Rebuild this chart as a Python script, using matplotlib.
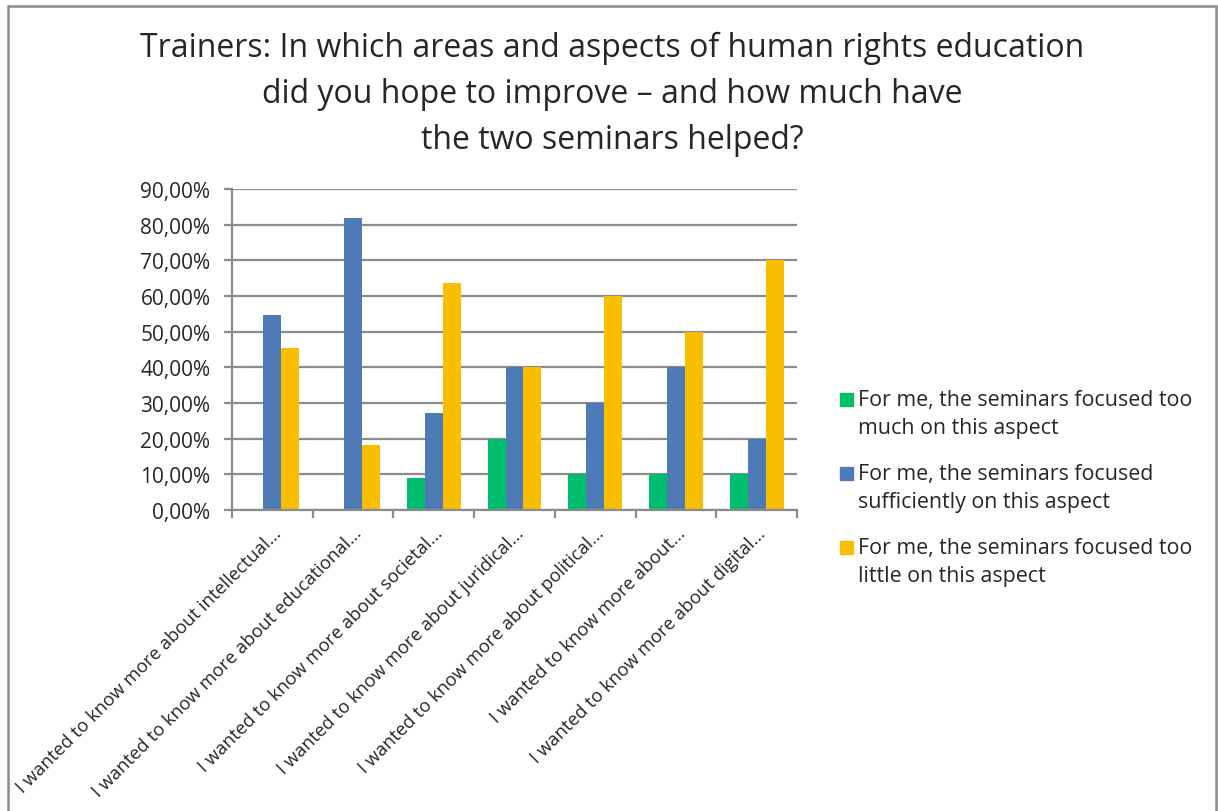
import matplotlib
matplotlib.use('Agg')
import matplotlib.pyplot as plt
from matplotlib.patches import Rectangle
import numpy as np

plt.rcParams['font.family'] = ['Open Sans', 'DejaVu Sans']

# survey answers per topic (share of trainers)
categories = [
    'I wanted to know more about intellectual...',
    'I wanted to know more about educational...',
    'I wanted to know more about societal...',
    'I wanted to know more about juridical...',
    'I wanted to know more about political...',
    'I wanted to know more about...',
    'I wanted to know more about digital...',
]
too_much = [0.0, 0.0, 0.0909, 0.20, 0.10, 0.10, 0.10]
sufficient = [0.5455, 0.8182, 0.2727, 0.40, 0.30, 0.40, 0.20]
too_little = [0.4545, 0.1818, 0.6364, 0.40, 0.60, 0.50, 0.70]

series_labels = [
    'For me, the seminars focused too\nmuch on this aspect',
    'For me, the seminars focused\nsufficiently on this aspect',
    'For me, the seminars focused too\nlittle on this aspect',
]
colors = ['#00BE6E', '#4E7AB5', '#F8BE00']
yticks = [0.0, 0.1, 0.2, 0.3, 0.4, 0.5, 0.6, 0.7, 0.8, 0.9]

TEXT = '#262626'
GRID = '#8C8C8C'

W, H = 1218, 812
fig = plt.figure(figsize=(W / 100, H / 100), dpi=100)
ax = fig.add_axes([232 / W, 1 - 511 / H, (797 - 232) / W, (511 - 190) / H])

x = np.arange(len(categories))
bw = 0.222
for i, (vals, c) in enumerate(zip([too_much, sufficient, too_little], colors)):
    ax.bar(x + (i - 1) * bw, vals, width=bw, color=c, zorder=3)

ax.set_xlim(-0.5, len(categories) - 0.5)
ax.set_ylim(0, 0.9)
ax.set_yticks(yticks)
ax.set_yticklabels([f'{v * 100:.2f}%'.replace('.', ',') for v in yticks],
                   fontsize=15, color=TEXT)
ax.yaxis.grid(True, color=GRID, linewidth=1.6, zorder=0)

# category labels, ticks sit between groups
ax.set_xticks(x)
ax.set_xticklabels(categories, rotation=45, ha='right', rotation_mode='anchor',
                   fontsize=13.2, color=TEXT)
ax.tick_params(axis='x', which='major', length=0, pad=10)
ax.set_xticks(np.arange(len(categories) + 1) - 0.5, minor=True)
ax.tick_params(axis='x', which='minor', length=6, width=1.6, color=GRID)
ax.tick_params(axis='y', length=5.5, width=1.6, color=GRID, pad=10)

for side in ['top', 'right']:
    ax.spines[side].set_visible(False)
for side in ['left', 'bottom']:
    ax.spines[side].set_color(GRID)
    ax.spines[side].set_linewidth(1.6)
    ax.spines[side].set_zorder(4)

# legend drawn by hand so the swatch lines up with the first text line
for i, (lab, c) in enumerate(zip(series_labels, colors)):
    ytop = 400 + i * 74
    fig.add_artist(Rectangle((840 / W, 1 - (ytop + 7) / H), 13 / W, 13 / H,
                             transform=fig.transFigure, color=c))
    fig.text(858 / W, 1 - (ytop - 10) / H, lab, fontsize=15.4, color=TEXT,
             va='top', ha='left', linespacing=1.42)

fig.text(612 / W, 1 - 94 / H,
         'Trainers: In which areas and aspects of human rights education\n'
         'did you hope to improve \u2013 and how much have\n'
         'the two seminars helped?',
         ha='center', va='center', fontsize=23, color=TEXT, linespacing=1.52)

# chart frame
fig.add_artist(Rectangle((7.5 / W, -0.1), (1216 - 7.5) / W, 1.1 - 6.5 / H,
                         transform=fig.transFigure, fill=False,
                         edgecolor='#8A8A8A', linewidth=1.8))

plt.savefig('out.png', dpi=100)
plt.close()
